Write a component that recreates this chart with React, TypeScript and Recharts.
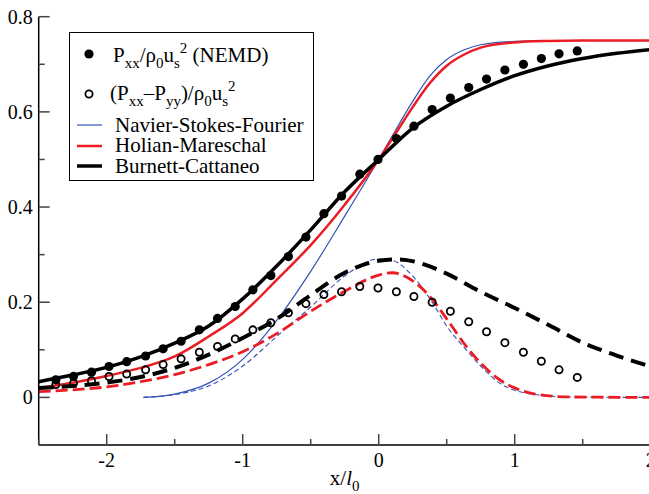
import { ComposedChart, Legend, Line, Scatter, XAxis, YAxis } from "recharts";

// NEMD samples (same x for both quantities)
const nemdX = [
  -2.374, -2.244, -2.112, -1.983, -1.853, -1.714, -1.585, -1.453, -1.319, -1.185,
  -1.055, -0.925, -0.793, -0.664, -0.535, -0.403, -0.273, -0.139, -0.005, 0.13,
  0.259, 0.393, 0.527, 0.662, 0.793, 0.928, 1.064, 1.196, 1.326, 1.46,
];
const nemdPxx = [
  0.037, 0.044, 0.053, 0.065, 0.075, 0.087, 0.102, 0.118, 0.142, 0.166,
  0.191, 0.226, 0.256, 0.296, 0.337, 0.386, 0.423, 0.469, 0.5, 0.544,
  0.57, 0.605, 0.629, 0.651, 0.669, 0.688, 0.7, 0.712, 0.722, 0.728,
];
const nemdDiff = [
  0.027, 0.03, 0.035, 0.044, 0.049, 0.058, 0.069, 0.081, 0.095, 0.107,
  0.123, 0.142, 0.157, 0.178, 0.197, 0.216, 0.222, 0.233, 0.23, 0.222,
  0.212, 0.2, 0.181, 0.159, 0.138, 0.115, 0.095, 0.076, 0.058, 0.042,
];

// Burnett-Cattaneo
const bcPxxX = [-2.5, -2.25, -2, -1.75, -1.5, -1.25, -1, -0.75, -0.5, -0.25, 0, 0.25, 0.5, 0.75, 1, 1.25, 1.5, 1.75, 2];
const bcPxx = [0.033, 0.047, 0.063, 0.085, 0.114, 0.15, 0.207, 0.276, 0.352, 0.432, 0.5, 0.566, 0.612, 0.647, 0.676, 0.697, 0.712, 0.723, 0.731];
const bcDiffX = [-2.5, -2.25, -2, -1.75, -1.5, -1.25, -1, -0.75, -0.5, -0.25, 0, 0.15, 0.35, 0.5, 0.75, 1, 1.25, 1.5, 1.75, 2];
const bcDiff = [0.02, 0.024, 0.031, 0.043, 0.062, 0.09, 0.125, 0.165, 0.215, 0.262, 0.287, 0.29, 0.278, 0.26, 0.222, 0.188, 0.152, 0.115, 0.088, 0.065];

// Holian-Mareschal
const hmPxxX = [-2.5, -2.25, -2, -1.75, -1.5, -1.25, -1, -0.75, -0.5, -0.25, 0, 0.125, 0.25, 0.375, 0.5, 0.625, 0.75, 1, 1.25, 1.5, 2];
const hmPxx = [0.02, 0.031, 0.045, 0.062, 0.086, 0.128, 0.177, 0.247, 0.32, 0.405, 0.5, 0.555, 0.61, 0.66, 0.697, 0.72, 0.735, 0.746, 0.749, 0.75, 0.75];
const hmDiffX = [-2.5, -2.25, -2, -1.75, -1.5, -1.25, -1, -0.75, -0.5, -0.25, 0, 0.1, 0.25, 0.4, 0.5, 0.65, 0.75, 0.9, 1, 1.15, 1.4, 2];
const hmDiff = [0.012, 0.016, 0.022, 0.033, 0.048, 0.069, 0.096, 0.134, 0.181, 0.223, 0.257, 0.262, 0.245, 0.204, 0.165, 0.105, 0.072, 0.035, 0.02, 0.007, 0.001, 0];

// Navier-Stokes-Fourier
const nsfPxxX = [-1.73, -1.5, -1.25, -1, -0.75, -0.5, -0.25, 0, 0.125, 0.25, 0.375, 0.5, 0.625, 0.75, 1, 1.25, 1.5, 2];
const nsfPxx = [0, 0.007, 0.03, 0.08, 0.162, 0.265, 0.381, 0.5, 0.562, 0.622, 0.675, 0.71, 0.73, 0.741, 0.748, 0.75, 0.75, 0.75];
const nsfDiffX = [-1.73, -1.5, -1.25, -1, -0.75, -0.5, -0.25, 0, 0.1, 0.25, 0.4, 0.5, 0.65, 0.75, 0.9, 1, 1.15, 1.4, 2];
const nsfDiff = [0, 0.006, 0.024, 0.066, 0.128, 0.19, 0.255, 0.291, 0.288, 0.255, 0.197, 0.15, 0.098, 0.066, 0.028, 0.015, 0.006, 0.001, 0];

const xTicks = [-2.5, -2, -1.5, -1, -0.5, 0, 0.5, 1, 1.5, 2];
const xTickLabels = [-2, -1, 0, 1, 2];
const yTicks = [-0.1, 0, 0.1, 0.2, 0.3, 0.4, 0.5, 0.6, 0.7, 0.8];
const yTickLabels = [0, 0.2, 0.4, 0.6, 0.8];

const pts = (xs: number[], ys: number[]) => xs.map((x, i) => ({ x, y: ys[i] }));

const SERIF = '"Liberation Serif", "Times New Roman", serif';
const BLUE = "#3352b5";
const RED = "#ec1c24";
const TICK = "#444";

const isLabel = (v: number, list: number[]) => list.some((l) => Math.abs(l - v) < 1e-6);

function BottomTick({ x, y, payload }: any) {
  const major = isLabel(payload.value, xTickLabels);
  return (
    <g>
      <line x1={x} x2={x} y1={y} y2={y - (major ? 11 : 6)} stroke={TICK} strokeWidth={1.5} />
      {major && (
        <text x={x} y={y + 22} textAnchor="middle" fontFamily={SERIF} fontSize={20} fill="#000">
          {String(payload.value)}
        </text>
      )}
    </g>
  );
}

function TopTick({ x, y, payload }: any) {
  const major = isLabel(payload.value, xTickLabels);
  return <line x1={x} x2={x} y1={y} y2={y + (major ? 11 : 6)} stroke={TICK} strokeWidth={1.5} />;
}

function LeftTick({ x, y, payload }: any) {
  const major = isLabel(payload.value, yTickLabels);
  return (
    <g>
      <line x1={x} x2={x + (major ? 11 : 6)} y1={y} y2={y} stroke={TICK} strokeWidth={1.5} />
      {major && (
        <text x={x - 6} y={y} dy="0.35em" textAnchor="end" fontFamily={SERIF} fontSize={20} fill="#000">
          {payload.value === 0 ? "0" : payload.value.toFixed(1)}
        </text>
      )}
    </g>
  );
}

function RightTick({ x, y, payload }: any) {
  const major = isLabel(payload.value, yTickLabels);
  return <line x1={x} x2={x - (major ? 11 : 6)} y1={y} y2={y} stroke={TICK} strokeWidth={1.5} />;
}

function XLabel({ viewBox }: any) {
  const cx = viewBox.x + viewBox.width / 2;
  return (
    <text x={cx} y={viewBox.y + 40} textAnchor="middle" fontFamily={SERIF} fontSize={21} fill="#000">
      x/<tspan fontStyle="italic">l</tspan>
      <tspan fontSize={15} dy={6}>0</tspan>
    </text>
  );
}

const FilledDot = ({ cx, cy }: any) => <circle cx={cx} cy={cy} r={4.6} fill="#000" />;
const OpenDot = ({ cx, cy }: any) => <circle cx={cx} cy={cy} r={3.6} fill="none" stroke="#000" strokeWidth={1.8} />;

function LegendBox() {
  return (
    <svg width={245} height={149} style={{ display: "block" }} fontFamily={SERIF}>
      <rect x={0.5} y={0.5} width={244} height={148} fill="#fff" stroke="#000" strokeWidth={1} />
      <circle cx={20} cy={22} r={4.6} fill="#000" />
      <text x={44} y={30} fontSize={21}>
        P<tspan fontSize={15} dy={6}>xx</tspan>
        <tspan dy={-6}>/ρ</tspan>
        <tspan fontSize={15} dy={6}>0</tspan>
        <tspan dy={-6}>u</tspan>
        <tspan fontSize={15} dy={6}>s</tspan>
        <tspan fontSize={15} dy={-15}>2</tspan>
        <tspan dy={9}> (NEMD)</tspan>
      </text>
      <circle cx={20} cy={62} r={3.6} fill="none" stroke="#000" strokeWidth={1.8} />
      <text x={41} y={68} fontSize={21}>
        (P<tspan fontSize={15} dy={6}>xx</tspan>
        <tspan dy={-6}>–P</tspan>
        <tspan fontSize={15} dy={6}>yy</tspan>
        <tspan dy={-6}>)/ρ</tspan>
        <tspan fontSize={15} dy={6}>0</tspan>
        <tspan dy={-6}>u</tspan>
        <tspan fontSize={15} dy={6}>s</tspan>
        <tspan fontSize={15} dy={-15}>2</tspan>
      </text>
      <line x1={8} x2={33} y1={93} y2={93} stroke={BLUE} strokeWidth={1.2} />
      <text x={46} y={99.5} fontSize={21}>Navier-Stokes-Fourier</text>
      <line x1={8} x2={33} y1={114} y2={114} stroke={RED} strokeWidth={2.5} />
      <text x={46} y={120} fontSize={21}>Holian-Mareschal</text>
      <line x1={8} x2={33} y1={134} y2={134} stroke="#000" strokeWidth={3.5} />
      <text x={46} y={140.5} fontSize={21}>Burnett-Cattaneo</text>
    </svg>
  );
}

export default function App() {
  return (
    <div style={{ position: "fixed", left: 0, top: 0, width: 649, height: 494, overflow: "hidden", background: "#fff" }}>
      <ComposedChart width={660} height={494} margin={{ top: 16.7, right: 9.3, bottom: 19, left: 0 }}>
        <XAxis
          dataKey="x"
          type="number"
          domain={[-2.5, 2]}
          ticks={xTicks}
          interval={0}
          allowDataOverflow
          height={30}
          tickSize={0}
          tickMargin={0}
          tickLine={false}
          tick={BottomTick}
          axisLine={{ stroke: "#000", strokeWidth: 1.5 }}
          label={{ content: XLabel }}
        />
        <XAxis
          xAxisId="top"
          orientation="top"
          dataKey="x"
          type="number"
          domain={[-2.5, 2]}
          ticks={xTicks}
          interval={0}
          allowDataOverflow
          height={0}
          tickSize={0}
          tickMargin={0}
          tickLine={false}
          tick={TopTick}
          axisLine={{ stroke: "#000", strokeWidth: 1.8 }}
        />
        <YAxis
          dataKey="y"
          type="number"
          domain={[-0.1, 0.8]}
          ticks={yTicks}
          interval={0}
          allowDataOverflow
          width={38.7}
          tickSize={0}
          tickMargin={0}
          tickLine={false}
          tick={LeftTick}
          axisLine={{ stroke: "#000", strokeWidth: 1.5 }}
        />
        <YAxis
          yAxisId="right"
          orientation="right"
          type="number"
          domain={[-0.1, 0.8]}
          ticks={yTicks}
          interval={0}
          allowDataOverflow
          width={0}
          tickSize={0}
          tickMargin={0}
          tickLine={false}
          tick={RightTick}
          axisLine={{ stroke: "#000", strokeWidth: 1.5 }}
        />
        <Legend
          content={LegendBox}
          layout="vertical"
          align="center"
          verticalAlign="middle"
          wrapperStyle={{ left: 69, top: 32, width: 245, height: 149 }}
        />
        <Line data={pts(nsfPxxX, nsfPxx)} dataKey="y" type="monotone" stroke={BLUE} strokeWidth={1.2} dot={false} activeDot={false} isAnimationActive={false} legendType="none" />
        <Line data={pts(nsfDiffX, nsfDiff)} dataKey="y" type="monotone" stroke={BLUE} strokeWidth={1.1} strokeDasharray="5 3" dot={false} activeDot={false} isAnimationActive={false} legendType="none" />
        <Line data={pts(hmPxxX, hmPxx)} dataKey="y" type="monotone" stroke={RED} strokeWidth={2.5} dot={false} activeDot={false} isAnimationActive={false} legendType="none" />
        <Line data={pts(hmDiffX, hmDiff)} dataKey="y" type="monotone" stroke={RED} strokeWidth={2.8} strokeDasharray="12 5" dot={false} activeDot={false} isAnimationActive={false} legendType="none" />
        <Line data={pts(bcPxxX, bcPxx)} dataKey="y" type="monotone" stroke="#000" strokeWidth={3.5} dot={false} activeDot={false} isAnimationActive={false} legendType="none" />
        <Line data={pts(bcDiffX, bcDiff)} dataKey="y" type="monotone" stroke="#000" strokeWidth={4} strokeDasharray="15 8" dot={false} activeDot={false} isAnimationActive={false} legendType="none" />
        <Scatter data={pts(nemdX, nemdPxx)} dataKey="y" shape={FilledDot} isAnimationActive={false} legendType="none" />
        <Scatter data={pts(nemdX, nemdDiff)} dataKey="y" shape={OpenDot} isAnimationActive={false} legendType="none" />
      </ComposedChart>
    </div>
  );
}
